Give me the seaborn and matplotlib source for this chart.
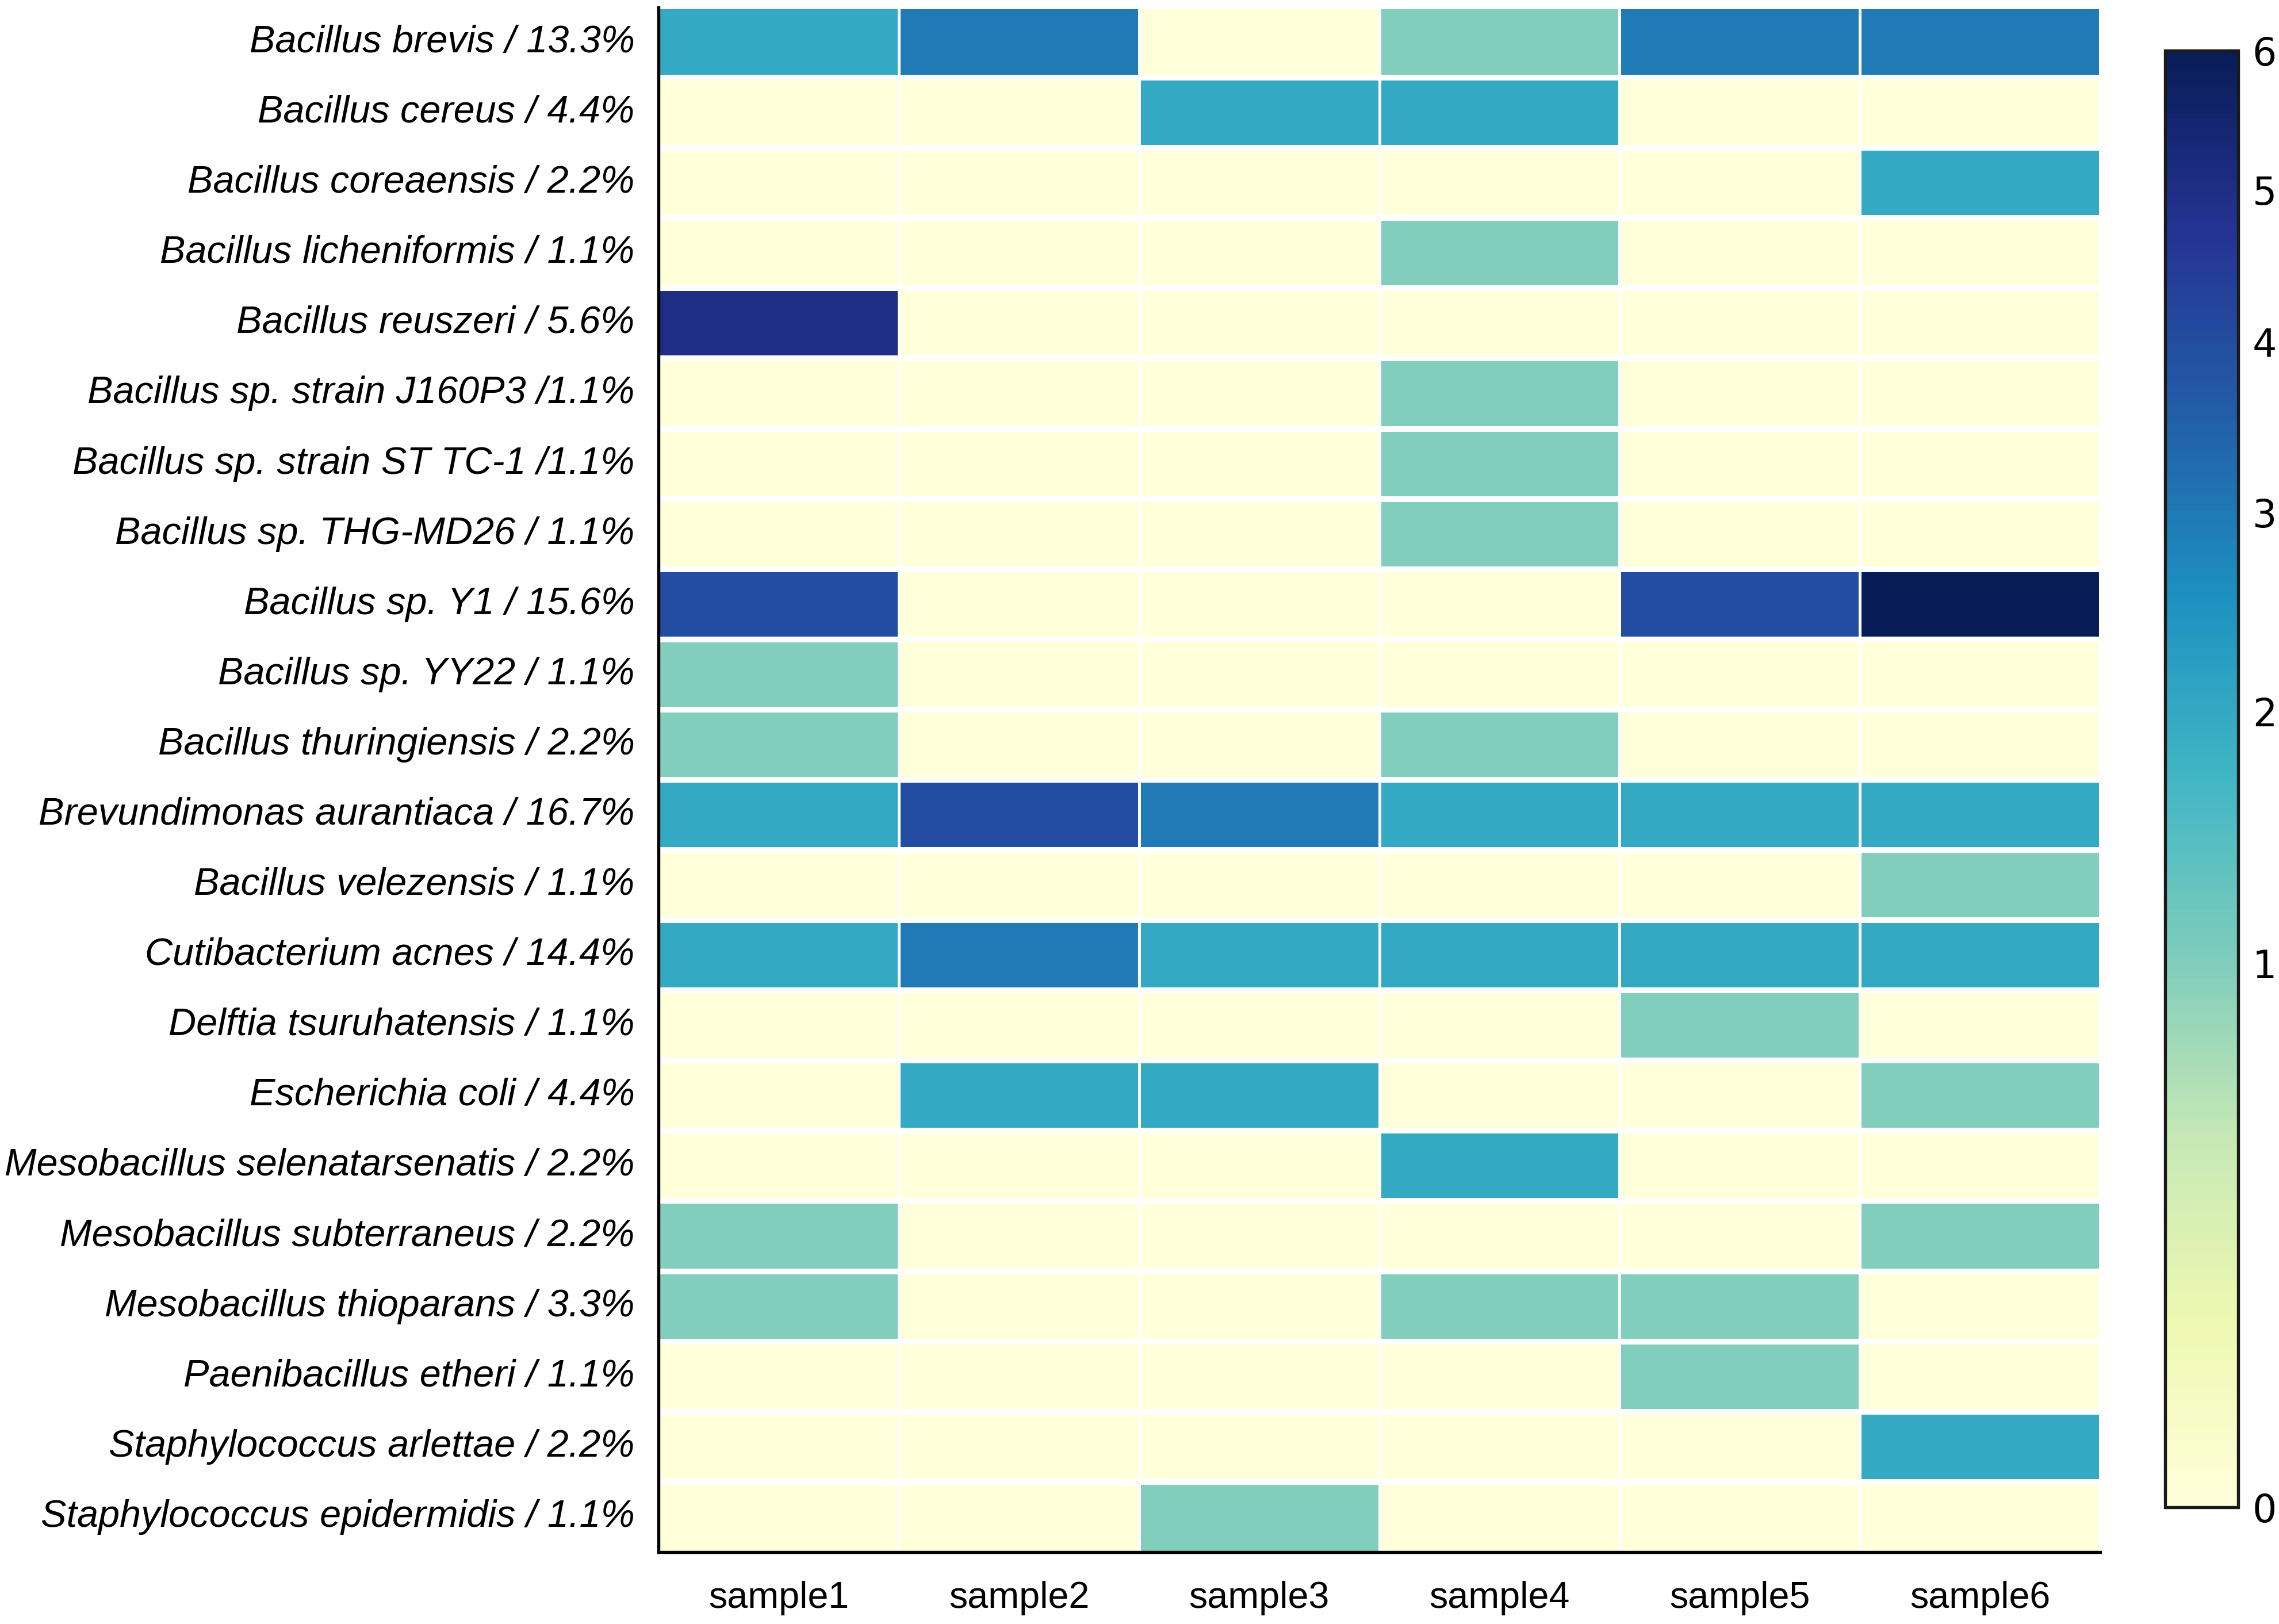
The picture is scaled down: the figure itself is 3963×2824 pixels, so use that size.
import numpy as np
import pandas as pd
import matplotlib
matplotlib.use("Agg")
import matplotlib.pyplot as plt
import matplotlib.colors as mcolors
import seaborn as sns

# species labels (rows)
species = [
    "Bacillus brevis / 13.3%",
    "Bacillus cereus / 4.4%",
    "Bacillus coreaensis / 2.2%",
    "Bacillus licheniformis / 1.1%",
    "Bacillus reuszeri / 5.6%",
    "Bacillus sp. strain J160P3 /1.1%",
    "Bacillus sp. strain ST TC-1 /1.1%",
    "Bacillus sp. THG-MD26 / 1.1%",
    "Bacillus sp. Y1 / 15.6%",
    "Bacillus sp. YY22 / 1.1%",
    "Bacillus thuringiensis / 2.2%",
    "Brevundimonas aurantiaca / 16.7%",
    "Bacillus velezensis / 1.1%",
    "Cutibacterium acnes / 14.4%",
    "Delftia tsuruhatensis / 1.1%",
    "Escherichia coli / 4.4%",
    "Mesobacillus selenatarsenatis / 2.2%",
    "Mesobacillus subterraneus / 2.2%",
    "Mesobacillus thioparans / 3.3%",
    "Paenibacillus etheri / 1.1%",
    "Staphylococcus arlettae / 2.2%",
    "Staphylococcus epidermidis / 1.1%",
]

samples = ["sample1", "sample2", "sample3", "sample4", "sample5", "sample6"]

# counts per sample
sample1 = [2, 0, 0, 0, 5, 0, 0, 0, 4, 1, 1, 2, 0, 2, 0, 0, 0, 1, 1, 0, 0, 0]
sample2 = [3, 0, 0, 0, 0, 0, 0, 0, 0, 0, 0, 4, 0, 3, 0, 2, 0, 0, 0, 0, 0, 0]
sample3 = [0, 2, 0, 0, 0, 0, 0, 0, 0, 0, 0, 3, 0, 2, 0, 2, 0, 0, 0, 0, 0, 1]
sample4 = [1, 2, 0, 1, 0, 1, 1, 1, 0, 0, 1, 2, 0, 2, 0, 0, 2, 0, 1, 0, 0, 0]
sample5 = [3, 0, 0, 0, 0, 0, 0, 0, 4, 0, 0, 2, 0, 2, 1, 0, 0, 0, 1, 1, 0, 0]
sample6 = [3, 0, 2, 0, 0, 0, 0, 0, 6, 0, 0, 2, 1, 2, 0, 1, 0, 1, 0, 0, 2, 0]

cbar_ticks = [0, 1, 2, 3, 4, 5, 6]

df = pd.DataFrame(
    np.column_stack([sample1, sample2, sample3, sample4, sample5, sample6]),
    index=species, columns=samples,
)

sns.set_style("white", {"text.color": "black", "xtick.color": "black",
                        "ytick.color": "black", "axes.labelcolor": "black"})
narrow = ["Liberation Sans Narrow", "Liberation Sans", "DejaVu Sans"]

fig = plt.figure(figsize=(3963 / 300, 2824 / 300), dpi=300)
ax = fig.add_axes([0.289, 0.0443, 0.6325, 0.9511])
cax = fig.add_axes([0.950, 0.0719, 0.032, 0.897])

norm = mcolors.PowerNorm(gamma=0.55, vmin=0, vmax=6)
sns.heatmap(df, ax=ax, cbar_ax=cax, cmap="YlGnBu", norm=norm,
            linewidths=1.2, linecolor="white",
            cbar_kws={"ticks": cbar_ticks})

# thicker white gaps between rows
ax.hlines(np.arange(1, len(species)), 0, len(samples), colors="white", lw=2.4)

for side in ["left", "bottom"]:
    ax.spines[side].set_visible(True)
    ax.spines[side].set_color("black")
    ax.spines[side].set_linewidth(1.3)

ax.tick_params(axis="y", direction="in", length=2.5, width=1.2, pad=10, left=True,
               colors="black")
ax.tick_params(axis="x", direction="in", length=6, width=1.0, pad=12, bottom=True,
               colors="black")
ax.set_yticklabels(species, rotation=0, fontsize=16, style="italic", family=narrow)
ax.set_xticklabels(samples, rotation=0, fontsize=15.5, family=narrow)
ax.set_xlabel("")
ax.set_ylabel("")

cbar = ax.collections[0].colorbar
cbar.outline.set_visible(True)
cbar.outline.set_edgecolor("#1a1a1a")
cbar.outline.set_linewidth(1.3)
cax.tick_params(direction="in", length=5, width=1.0, pad=6, labelsize=16, right=True,
                colors="black")

fig.savefig("out.png", dpi=300)
